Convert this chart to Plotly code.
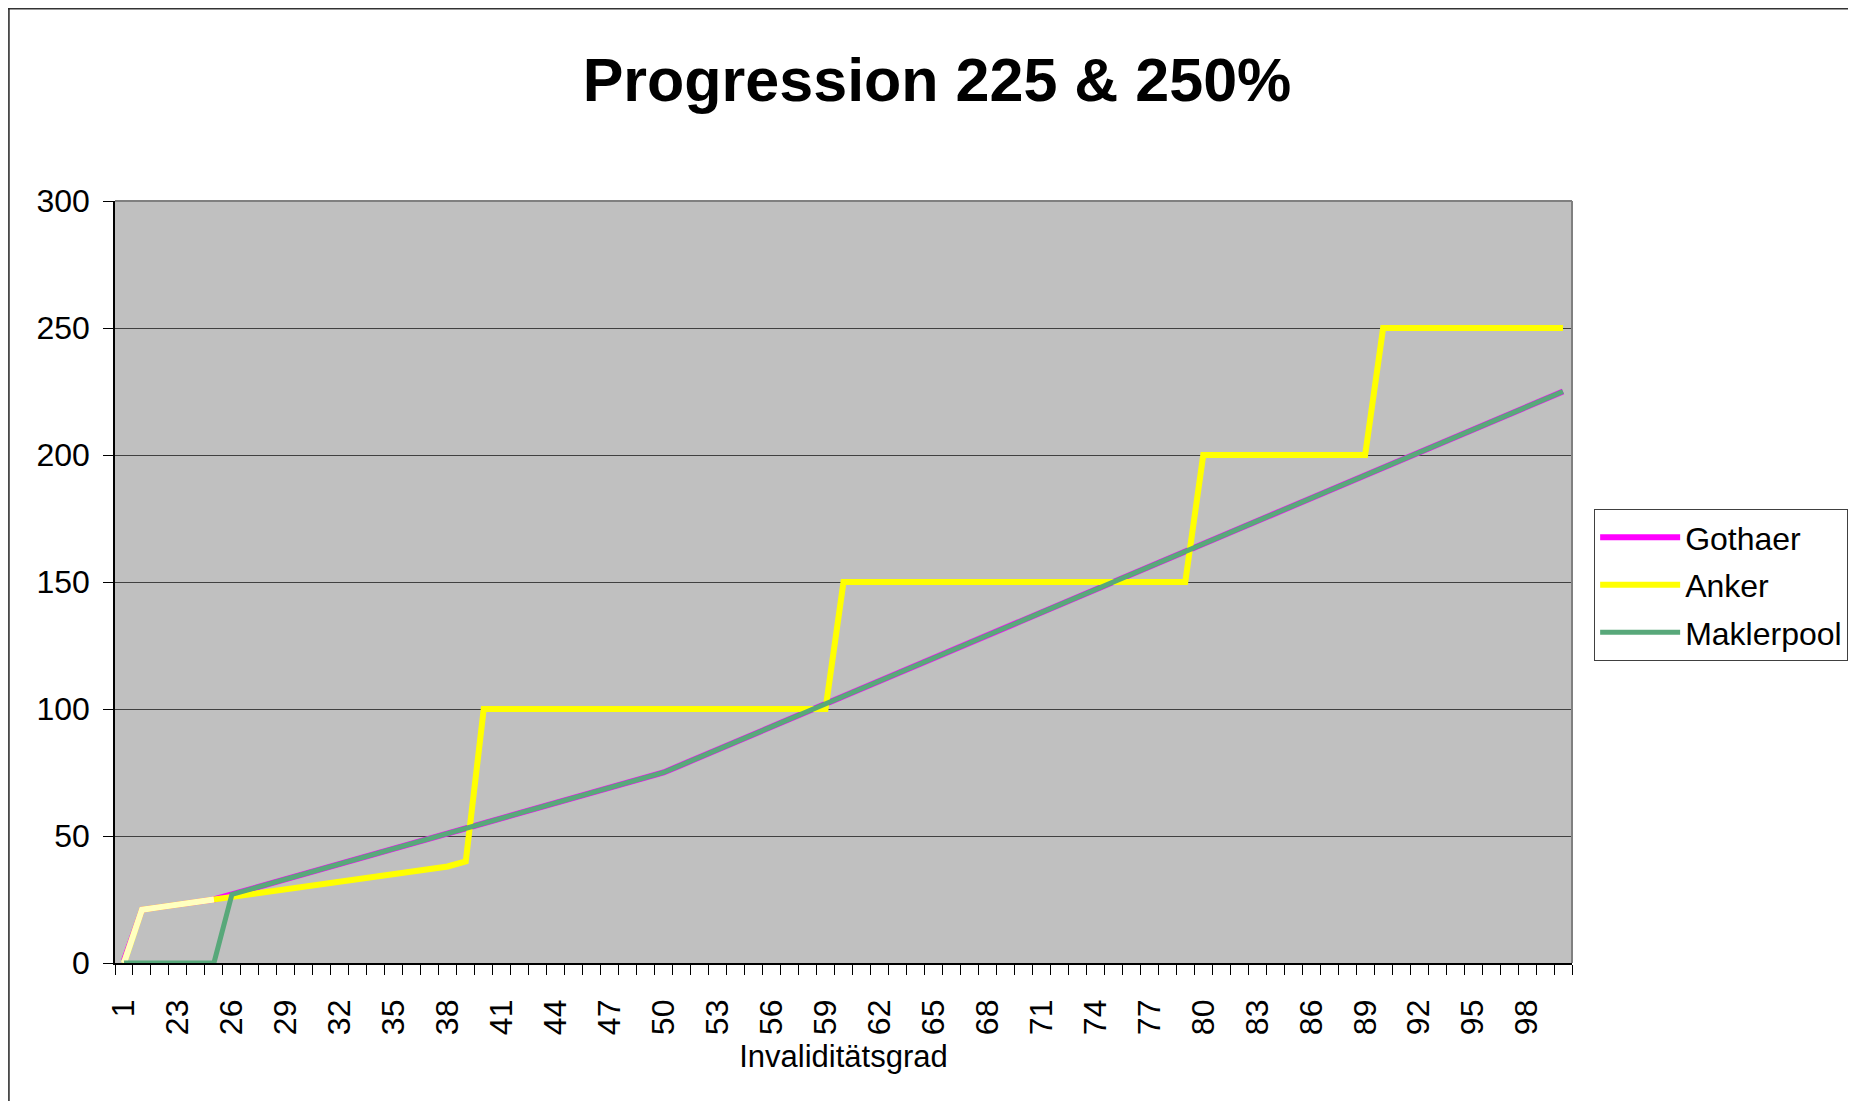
import plotly.graph_objects as go

categories = ["1"] + [str(v) for v in range(21, 101)]

gothaer = [1, 21, 22, 23, 24, 25,
           27, 29, 31, 33, 35, 37, 39, 41, 43, 45, 47, 49, 51, 53, 55, 57, 59, 61, 63, 65, 67, 69, 71, 73, 75,
           78, 81, 84, 87, 90, 93, 96, 99, 102, 105, 108, 111, 114, 117, 120, 123, 126, 129, 132, 135,
           138, 141, 144, 147, 150, 153, 156, 159, 162, 165, 168, 171, 174, 177, 180, 183, 186, 189, 192, 195,
           198, 201, 204, 207, 210, 213, 216, 219, 222, 225]

anker = [0, 21, 22, 23, 24, 25,
         26, 27, 28, 29, 30, 31, 32, 33, 34, 35, 36, 37, 38, 40,
         100, 100, 100, 100, 100, 100, 100, 100, 100, 100, 100, 100, 100, 100, 100, 100, 100, 100, 100, 100,
         150, 150, 150, 150, 150, 150, 150, 150, 150, 150, 150, 150, 150, 150, 150, 150, 150, 150, 150, 150,
         200, 200, 200, 200, 200, 200, 200, 200, 200, 200,
         250, 250, 250, 250, 250, 250, 250, 250, 250, 250, 250]

maklerpool = [0, 0, 0, 0, 0, 0,
              27, 29, 31, 33, 35, 37, 39, 41, 43, 45, 47, 49, 51, 53, 55, 57, 59, 61, 63, 65, 67, 69, 71, 73, 75,
              78, 81, 84, 87, 90, 93, 96, 99, 102, 105, 108, 111, 114, 117, 120, 123, 126, 129, 132, 135,
              138, 141, 144, 147, 150, 153, 156, 159, 162, 165, 168, 171, 174, 177, 180, 183, 186, 189, 192, 195,
              198, 201, 204, 207, 210, 213, 216, 219, 222, 225]

y_ticks = [0, 50, 100, 150, 200, 250, 300]

FONT = "Liberation Sans, Arial, sans-serif"
idx = list(range(len(categories)))

fig = go.Figure()
fig.add_trace(go.Scatter(x=idx, y=gothaer, mode="lines", name="Gothaer", legendgroup="g",
                         line=dict(color="#FF00FF", width=6)))
fig.add_trace(go.Scatter(x=idx, y=anker, mode="lines", name="Anker", legendgroup="a",
                         line=dict(color="#FFFF00", width=6)))
fig.add_trace(go.Scatter(x=idx[:6], y=anker[:6], mode="lines", showlegend=False, legendgroup="a",
                         line=dict(color="#FFFFC0", width=6), hoverinfo="skip"))
fig.add_trace(go.Scatter(x=idx, y=maklerpool, mode="lines", name="Maklerpool", legendgroup="m",
                         line=dict(color="#58A87A", width=5)))

fig.update_layout(
    width=1848, height=1093,
    margin=dict(l=107, r=284, t=193, b=138, autoexpand=False),
    paper_bgcolor="white",
    plot_bgcolor="#C0C0C0",
    font=dict(family=FONT, size=32, color="black"),
    title=dict(text="<b>Progression 225 &amp; 250%</b>", x=0.5027, xanchor="center",
               y=1 - 72 / 1093, yanchor="middle", yref="container",
               font=dict(family=FONT, size=61, color="black")),
    showlegend=True,
    legend=dict(x=1.0152, y=0.596, xanchor="left", yanchor="top",
                bgcolor="white", bordercolor="#404040", borderwidth=1,
                font=dict(family=FONT, size=32, color="black"),
                itemwidth=80, tracegroupgap=3),
    shapes=[
        dict(type="line", xref="paper", yref="paper", x0=-0.0735, x1=1.3, y0=1.2526, y1=1.2526,
             line=dict(color="#333333", width=2)),
        dict(type="line", xref="paper", yref="paper", x0=-0.0728, x1=-0.0728, y0=1.2526, y1=-0.3,
             line=dict(color="#222222", width=1.5)),
        dict(type="line", xref="paper", yref="paper", x0=0, x1=1, y0=1, y1=1,
             line=dict(color="#808080", width=2)),
        dict(type="line", xref="paper", yref="paper", x0=1, x1=1, y0=0, y1=1,
             line=dict(color="#808080", width=2)),
    ],
)

fig.update_xaxes(
    range=[-0.5, len(categories) - 0.5],
    tickmode="array", tickvals=idx[::3], ticktext=categories[::3],
    tickangle=-90, ticks="outside", ticklen=10, tickcolor="rgba(0,0,0,0)",
    ticklabelstandoff=12,
    minor=dict(ticks="outside", tick0=-0.5, dtick=1, ticklen=10, tickcolor="black", tickwidth=1),
    showgrid=False, zeroline=False,
    showline=True, linecolor="black", linewidth=1.5,
    tickfont=dict(family=FONT, size=32, color="black"),
    title=dict(text="Invaliditätsgrad", standoff=11, font=dict(family=FONT, size=31, color="black")),
)
fig.update_yaxes(
    range=[0, 300], tickmode="array", tickvals=y_ticks,
    ticks="outside", ticklen=10, tickcolor="black", tickwidth=1,
    ticklabelstandoff=7,
    showgrid=True, gridcolor="#404040", gridwidth=1,
    zeroline=False,
    showline=True, linecolor="black", linewidth=1.5,
    tickfont=dict(family=FONT, size=32, color="black"),
)

fig.write_html("out.html")
